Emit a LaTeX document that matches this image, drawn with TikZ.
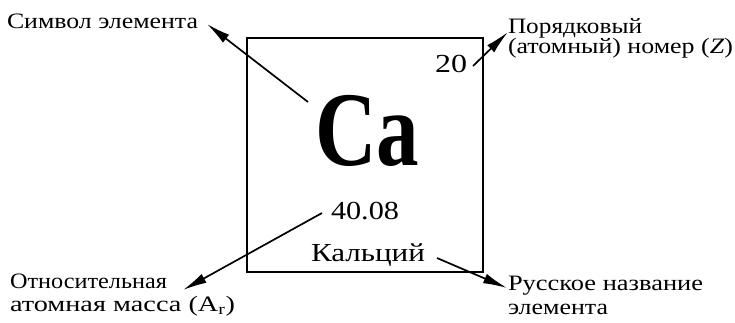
\documentclass[tikz,border=0pt]{standalone}
\usepackage{fontspec}
\usepackage{graphicx}
\setmainfont{Liberation Serif}
\usetikzlibrary{arrows.meta}
\tikzset{
  lbl/.style={anchor=base west, inner sep=0pt, outer sep=0pt, font=\fontsize{22}{24}\selectfont},
  big/.style={anchor=base west, inner sep=0pt, outer sep=0pt, font=\fontsize{26}{28}\selectfont},
  cellbox/.style={draw, line width=2.8pt, minimum width=236pt, minimum height=234pt, inner sep=0pt},
  pointer/.style={line width=1.7pt, -{Latex[length=24pt,width=10pt]}}
}
\newcommand{\fitw}[2]{\resizebox{#1}{\height}{#2}}
\begin{document}
\begin{tikzpicture}[x=1pt,y=-1pt]
\useasboundingbox (0,0) rectangle (735,322);
\node[cellbox] (cell) at (365,155) {};
% texts
\node[lbl] (sym) at (7,28) {\fitw{191pt}{Символ элемента}};
\node[lbl] (num1) at (508,33) {\fitw{134pt}{Порядковый}};
\node[lbl] (num2) at (508,53) {\fitw{225pt}{(атомный) номер (\textit{Z})}};
\node[big] (twenty) at (435,72) {\fitw{32pt}{20}};
\node[anchor=base west, inner sep=0pt, font=\fontsize{106}{110}\selectfont\bfseries] (ca) at (315,165) {\fitw{104pt}{Ca}};
\node[big] (mass) at (331,219) {\fitw{68pt}{40.08}};
\node[big] (name) at (311,261) {\fitw{114pt}{Кальций}};
\node[lbl] (rel1) at (10,288) {\fitw{157pt}{Относительная}};
\node[lbl] (rel2) at (10,311) {\fitw{225pt}{атомная масса (A\textsubscript{r})}};
\node[lbl] (rus1) at (508,290) {\fitw{195pt}{Русское название}};
\node[lbl] (rus2) at (508,314) {\fitw{100pt}{элемента}};
% connector ends
\coordinate (symS) at (308,102);
\coordinate (symT) at (207,24);
\coordinate (numS) at (473,66);
\coordinate (numT) at (508,32);
\coordinate (massS) at (322,213);
\coordinate (massT) at (183,290);
\coordinate (nameS) at (437,258);
\coordinate (nameT) at (507,288);
\draw[pointer] (symS) -- (symT);
\draw[pointer] (numS) -- (numT);
\draw[pointer] (massS) -- (massT);
\draw[pointer] (nameS) -- (nameT);
\end{tikzpicture}
\end{document}
